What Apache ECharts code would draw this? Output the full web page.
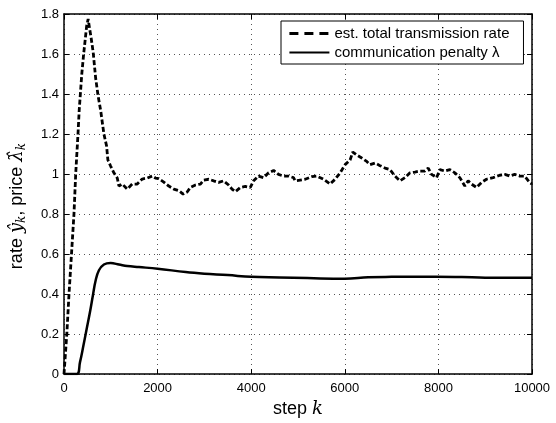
<!DOCTYPE html>
<html>
<head>
<meta charset="utf-8">
<script src="https://cdn.jsdelivr.net/npm/echarts@6/dist/echarts.min.js"></script>
<style>
  html, body { margin: 0; background: #fff; }
  #main { width: 556px; height: 423px; }
</style>
</head>
<body>
<div id="main"></div>
<script>
// est. total transmission rate (dashed)
var rateSteps = [0, 60, 107, 160, 213, 250, 299, 325, 380, 420, 484, 516, 545, 580, 623, 676, 729, 782, 853, 910,
  938, 996, 1066, 1138, 1173, 1245, 1351, 1458, 1565, 1671, 1778, 1885, 1955, 2026, 2132, 2239, 2345, 2452, 2545, 2631,
  2701, 2808, 2915, 2985, 3092, 3198, 3305, 3411, 3518, 3590, 3661, 3768, 3874, 3981, 4051, 4158, 4264, 4371, 4478, 4584,
  4691, 4797, 4904, 4940, 5047, 5153, 5296, 5402, 5545, 5687, 5793, 5900, 6006, 6113, 6170, 6255, 6362, 6469, 6540, 6646,
  6753, 6859, 6966, 7073, 7179, 7286, 7392, 7499, 7606, 7712, 7783, 7854, 7961, 8032, 8138, 8245, 8352, 8458, 8565, 8636,
  8707, 8814, 8921, 9028, 9169, 9311, 9418, 9524, 9631, 9737, 9844, 9950, 10000];
var rateValues = [0, 0.2, 0.4, 0.6, 0.8, 1.0, 1.2, 1.32, 1.5, 1.6, 1.74, 1.775, 1.73, 1.68, 1.61, 1.48, 1.39, 1.32, 1.2, 1.14,
  1.07, 1.04, 1.006, 0.98, 0.94, 0.95, 0.925, 0.95, 0.95, 0.975, 0.98, 0.99, 0.98, 0.977, 0.96, 0.94, 0.925, 0.917, 0.9, 0.91,
  0.933, 0.945, 0.95, 0.97, 0.974, 0.966, 0.958, 0.966, 0.945, 0.925, 0.912, 0.933, 0.938, 0.933, 0.966, 0.99, 0.982, 1.006, 1.018, 0.998,
  0.99, 0.99, 0.982, 0.966, 0.97, 0.974, 0.987, 0.99, 0.974, 0.95, 0.974, 1.006, 1.047, 1.07, 1.11, 1.095, 1.08, 1.063, 1.047, 1.055,
  1.042, 1.03, 1.022, 0.99, 0.966, 0.982, 1.006, 1.01, 1.015, 1.015, 1.03, 0.998, 0.982, 1.022, 1.015, 1.022, 1.006, 0.982, 0.94, 0.966,
  0.95, 0.933, 0.958, 0.974, 0.982, 0.994, 0.998, 0.99, 0.998, 0.99, 0.99, 0.958, 0.95];

// communication penalty (solid)
var penaltySteps = [0, 271, 342, 413, 484, 555, 620, 676, 747, 853, 996, 1174, 1351, 1600, 2000, 2600, 3000, 3500, 4000, 4600,
  5200, 5750, 6000, 6500, 7000, 7940, 8500, 9000, 10000];
var penaltyValues = [0, 0, 0.06, 0.14, 0.225, 0.31, 0.397, 0.468, 0.519, 0.548, 0.555, 0.548, 0.54, 0.535, 0.527, 0.51, 0.502, 0.495, 0.486, 0.483,
  0.48, 0.477, 0.476, 0.484, 0.486, 0.487, 0.485, 0.482, 0.481];

var xTicks = { min: 0, max: 10000, interval: 2000 };
var yTicks = { min: 0, max: 1.8, interval: 0.2 };

var myChart = echarts.init(document.getElementById('main'));

function pairs(xs, ys) {
  return xs.map(function (x, i) { return [x, ys[i]]; });
}

var boxLine = { show: true, onZero: false, lineStyle: { color: '#000', width: 1.5 } };
var tick = { show: true, inside: true, length: 5, lineStyle: { color: '#000', width: 1 } };
var grid = { show: true, lineStyle: { color: '#555', width: 1, type: [1, 4] } };
var tickFont = { color: '#000', fontSize: 13, fontFamily: 'Liberation Sans' };

var option = {
  animation: false,
  backgroundColor: '#fff',
  grid: { left: 63, right: 24, top: 14, bottom: 40 },
  legend: {
    orient: 'vertical',
    left: 281,
    top: 21,
    itemWidth: 40,
    itemHeight: 14,
    itemGap: 4,
    padding: [5, 14, 4, 7],
    borderColor: '#000',
    borderWidth: 1,
    backgroundColor: '#fff',
    itemStyle: { opacity: 0 },
    textStyle: { color: '#000', fontSize: 15, fontFamily: 'Liberation Sans' },
    data: [
      { name: 'est. total transmission rate', lineStyle: { type: [9, 6], width: 2.8 } },
      { name: 'communication penalty λ' }
    ]
  },
  xAxis: [
    {
      type: 'value', position: 'bottom',
      min: xTicks.min, max: xTicks.max, interval: xTicks.interval,
      axisLine: boxLine, axisTick: tick, splitLine: grid,
      axisLabel: Object.assign({ margin: 8, formatter: function (v) { return String(v); } }, tickFont),
      name: '{n|step }{m|k}',
      nameLocation: 'middle',
      nameGap: 22,
      nameTextStyle: {
        rich: {
          n: { fontSize: 18, fontFamily: 'Liberation Sans', color: '#000' },
          m: { fontSize: 18, fontFamily: 'DejaVu Serif', fontStyle: 'italic', color: '#000' }
        }
      }
    },
    {
      type: 'value', position: 'top',
      min: xTicks.min, max: xTicks.max, interval: xTicks.interval,
      axisLine: boxLine, axisTick: tick, splitLine: { show: false }, axisLabel: { show: false }
    }
  ],
  yAxis: [
    {
      type: 'value', position: 'left',
      min: yTicks.min, max: yTicks.max, interval: yTicks.interval,
      axisLine: boxLine, axisTick: tick, splitLine: grid,
      axisLabel: Object.assign({ margin: 5 }, tickFont),
      name: '{n|rate }{m|ŷ}{s|k}{n|, price }{m|λ̂}{s|k}',
      nameLocation: 'middle',
      nameGap: 36,
      nameTextStyle: {
        padding: [0, 24, 0, 0],
        rich: {
          n: { fontSize: 18, fontFamily: 'Liberation Sans', color: '#000', lineHeight: 22 },
          m: { fontSize: 18, fontFamily: 'DejaVu Serif', fontStyle: 'italic', color: '#000', lineHeight: 22 },
          s: { fontSize: 12, fontFamily: 'DejaVu Serif', fontStyle: 'italic', color: '#000', lineHeight: 12, verticalAlign: 'bottom' }
        }
      }
    },
    {
      type: 'value', position: 'right',
      min: yTicks.min, max: yTicks.max, interval: yTicks.interval,
      axisLine: boxLine, axisTick: tick, splitLine: { show: false }, axisLabel: { show: false }
    }
  ],
  series: [
    {
      name: 'est. total transmission rate',
      type: 'line',
      xAxisIndex: 0, yAxisIndex: 0,
      data: pairs(rateSteps, rateValues),
      symbol: 'none',
      lineStyle: { color: '#000', width: 2.8, type: [5, 2.5] },
      itemStyle: { color: '#000' },
      z: 3
    },
    {
      name: 'communication penalty λ',
      type: 'line',
      xAxisIndex: 0, yAxisIndex: 0,
      data: pairs(penaltySteps, penaltyValues),
      symbol: 'none',
      smooth: 0.4,
      lineStyle: { color: '#000', width: 2.5 },
      itemStyle: { color: '#000' },
      z: 3
    }
  ]
};

myChart.setOption(option);
window.addEventListener('resize', function () { myChart.resize(); });
</script>
</body>
</html>
